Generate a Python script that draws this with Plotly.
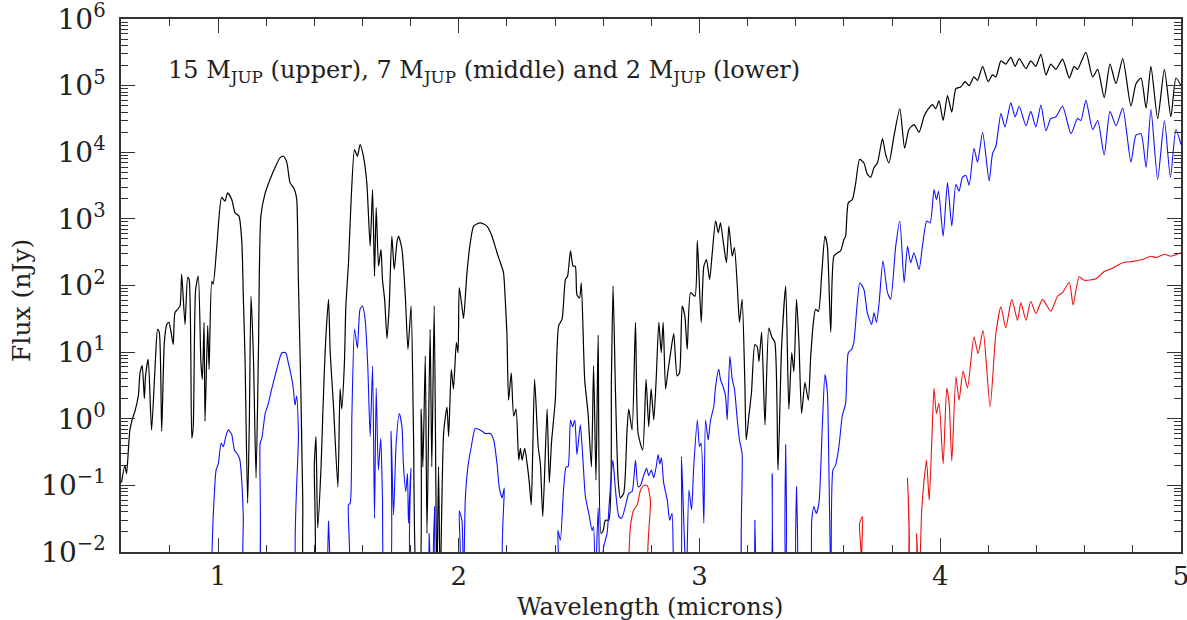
import plotly.graph_objects as go

# ---- data (wavelength in microns, flux in nJy); 0.003 marks points that drop below the plot floor ----
black_wl = [0.599, 0.613, 0.620, 0.634, 0.648, 0.655, 0.669, 0.676, 0.685, 0.694, 0.699, 0.710, 0.724, 0.738,
            0.749, 0.756, 0.766, 0.777, 0.787, 0.796, 0.805, 0.814, 0.821, 0.832, 0.842, 0.849, 0.863, 0.874,
            0.880, 0.891, 0.897, 0.907, 0.918, 0.929, 0.935, 0.942, 0.946, 0.957, 0.963, 0.974, 0.980, 0.995,
            1.015, 1.029, 1.040, 1.057, 1.071, 1.087, 1.099, 1.105, 1.112, 1.123, 1.130, 1.137, 1.147, 1.158,
            1.168, 1.178, 1.196, 1.216, 1.237, 1.258, 1.272, 1.286, 1.299, 1.313, 1.320, 1.327, 1.334, 1.344,
            1.352, 1.362, 1.395, 1.400, 1.407, 1.414, 1.428, 1.435, 1.442, 1.448, 1.459, 1.466, 1.479, 1.498,
            1.507, 1.514, 1.525, 1.531, 1.542, 1.553, 1.567, 1.579, 1.590, 1.604, 1.618, 1.632, 1.642, 1.650,
            1.657, 1.667, 1.677, 1.683, 1.692, 1.702, 1.711, 1.722, 1.732, 1.743, 1.750, 1.764, 1.778, 1.789,
            1.802, 1.812, 1.827, 1.836, 1.844, 1.851, 1.861, 1.868, 1.881, 1.888, 1.898, 1.909, 1.916, 1.923,
            1.937, 1.951, 1.958, 1.969, 1.978, 1.990, 1.997, 2.002, 2.013, 2.020, 2.034, 2.048, 2.062, 2.089,
            2.117, 2.138, 2.159, 2.173, 2.186, 2.193, 2.200, 2.207, 2.218, 2.228, 2.238, 2.249, 2.256, 2.263,
            2.274, 2.284, 2.293, 2.301, 2.307, 2.315, 2.330, 2.339, 2.349, 2.367, 2.376, 2.385, 2.401, 2.415,
            2.429, 2.443, 2.452, 2.464, 2.475, 2.484, 2.491, 2.502, 2.509, 2.523, 2.537, 2.551, 2.560, 2.570,
            2.579, 2.591, 2.600, 2.609, 2.623, 2.634, 2.641, 2.651, 2.662, 2.671, 2.685, 2.699, 2.706, 2.720,
            2.734, 2.745, 2.764, 2.778, 2.789, 2.799, 2.810, 2.820, 2.831, 2.841, 2.849, 2.859, 2.868, 2.880,
            2.893, 2.907, 2.917, 2.928, 2.939, 2.949, 2.963, 2.981, 2.991, 3.007, 3.018, 3.029, 3.042, 3.053,
            3.067, 3.078, 3.087, 3.101, 3.112, 3.122, 3.136, 3.145, 3.157, 3.166, 3.177, 3.188, 3.194, 3.205,
            3.216, 3.230, 3.240, 3.247, 3.258, 3.272, 3.288, 3.300, 3.313, 3.326, 3.341, 3.358, 3.371, 3.383,
            3.392, 3.403, 3.413, 3.424, 3.438, 3.452, 3.462, 3.473, 3.482, 3.494, 3.507, 3.521, 3.531, 3.545,
            3.558, 3.573, 3.586, 3.600, 3.607, 3.618, 3.635, 3.649, 3.665, 3.683, 3.697, 3.711, 3.725, 3.739,
            3.760, 3.773, 3.787, 3.808, 3.832, 3.852, 3.870, 3.891, 3.912, 3.933, 3.951, 3.968, 3.981, 3.995,
            4.012, 4.030, 4.048, 4.065, 4.085, 4.103, 4.120, 4.140, 4.155, 4.176, 4.199, 4.217, 4.231, 4.252,
            4.272, 4.293, 4.311, 4.328, 4.356, 4.376, 4.397, 4.418, 4.439, 4.459, 4.480, 4.508, 4.536, 4.556,
            4.570, 4.605, 4.633, 4.654, 4.681, 4.705, 4.730, 4.758, 4.792, 4.813, 4.834, 4.855, 4.875, 4.903,
            4.931, 4.958, 4.979, 5.000]
black_flux = [0.11, 0.20, 0.15, 0.68, 1.1, 1.3, 2.2, 4.9, 6.3, 2.0, 4.4, 7.8, 0.68, 5.5,
              22, 20, 0.65, 14, 26, 28, 20, 13, 39, 44, 49, 148, 26, 132,
              123, 0.51, 0.76, 87, 138, 6.9, 3.9, 28, 0.91, 25, 5.5, 115, 105, 390,
              2100, 1850, 2450, 1950, 1230, 1100, 440, 69, 8.7, 0.054, 0.85, 69, 8.7, 0.13,
              11, 1100, 2450, 3900, 5900, 8300, 8700, 7000, 3500, 2950, 2600, 1950, 110, 2.8,
              0.06, 0.003, 0.003, 0.20, 0.54, 0.023, 0.19, 1.1, 5.5, 17, 62, 9.8, 1.7, 0.095,
              2.8, 1.4, 6.9, 49, 220, 1950, 11000, 8700, 13000, 8700, 3500, 390, 2750, 138,
              1480, 195, 350, 123, 62, 16, 49, 550, 174, 440, 550, 350, 69, 11,
              49, 0.6, 0.003, 0.003, 1.4, 0.19, 8.7, 0.019, 22, 0.19, 49, 0.003, 0.19, 0.003,
              0.6, 1.5, 0.54, 5.5, 2.8, 14, 9.8, 93, 49, 32, 155, 440, 780, 870,
              780, 550, 310, 220, 155, 62, 19, 1.9, 4.9, 1.1, 1.4, 0.24, 0.36, 0.24,
              0.36, 0.21, 0.11, 0.051, 0.30, 3.9, 0.38, 0.21, 0.034, 1.4, 0.11, 0.43, 1.9, 25,
              31, 123, 138, 330, 195, 195, 72, 65, 110, 3.9, 1.2, 0.19, 6.2, 0.12,
              18, 0.019, 0.021, 0.030, 0.030, 3.9, 98, 2.5, 0.12, 0.065, 0.076, 0.68, 1.4, 0.68,
              28, 0.6, 0.34, 3.9, 0.76, 2.8, 0.96, 3.9, 28, 9.8, 28, 2.8, 4.9, 9.8,
              19, 4.4, 4.9, 49, 35, 11, 78, 69, 470, 28, 195, 245, 123, 310,
              930, 620, 870, 390, 220, 780, 275, 370, 98, 28, 62, 3.9, 0.48, 1.1,
              2.5, 13, 12, 7.2, 20, 0.81, 23, 17, 14, 0.17, 12, 98, 1.4, 9.8,
              5.1, 62, 14, 1.2, 3.5, 1.9, 8.7, 28, 44, 41, 138, 550, 390, 20,
              275, 310, 330, 490, 550, 1740, 1950, 3500, 7800, 6900, 4700, 4200, 5900, 6900,
              16000, 9300, 6900, 17800, 45000, 11500, 22000, 26000, 20000, 35000, 45000, 52000, 45000, 59000,
              30000, 71000, 40000, 90000, 95000, 115000, 100000, 135000, 120000, 195000, 115000, 145000, 135000, 235000,
              210000, 265000, 195000, 255000, 180000, 235000, 195000, 295000, 145000, 210000, 175000, 250000, 130000, 195000,
              175000, 315000, 135000, 175000, 66000, 210000, 107000, 255000, 49000, 107000, 130000, 46000, 195000, 32000,
              175000, 34000, 130000, 100000]

blue_wl = [0.971, 0.980, 0.992, 1.001, 1.013, 1.022, 1.032, 1.043, 1.057, 1.068, 1.082, 1.091, 1.099, 1.105,
           1.112, 1.162, 1.175, 1.182, 1.196, 1.209, 1.223, 1.237, 1.251, 1.265, 1.281, 1.292, 1.304, 1.313,
           1.320, 1.327, 1.334, 1.338, 1.453, 1.459, 1.466, 1.539, 1.542, 1.549, 1.556, 1.567, 1.579, 1.590,
           1.600, 1.611, 1.622, 1.632, 1.642, 1.650, 1.657, 1.666, 1.676, 1.683, 1.694, 1.712, 1.719, 1.729,
           1.740, 1.753, 1.764, 1.770, 1.780, 1.787, 1.791, 1.801, 1.808, 1.873, 1.877, 1.881, 1.894, 1.900,
           1.906, 1.997, 2.002, 2.013, 2.020, 2.027, 2.038, 2.052, 2.069, 2.097, 2.110, 2.131, 2.145, 2.159,
           2.168, 2.180, 2.189, 2.196, 2.401, 2.412, 2.422, 2.436, 2.446, 2.454, 2.464, 2.473, 2.482, 2.491,
           2.505, 2.515, 2.526, 2.540, 2.554, 2.560, 2.567, 2.579, 2.588, 2.602, 2.616, 2.626, 2.640, 2.651,
           2.665, 2.676, 2.692, 2.706, 2.720, 2.734, 2.745, 2.755, 2.768, 2.780, 2.789, 2.800, 2.810, 2.820,
           2.828, 2.835, 2.842, 2.851, 2.866, 2.876, 2.886, 2.900, 2.917, 2.925, 2.935, 2.945, 2.956, 2.967,
           2.976, 2.991, 3.000, 3.007, 3.018, 3.025, 3.036, 3.046, 3.059, 3.067, 3.080, 3.087, 3.097, 3.108,
           3.115, 3.126, 3.136, 3.145, 3.157, 3.166, 3.177, 3.184, 3.225, 3.230, 3.240, 3.288, 3.302, 3.316,
           3.349, 3.358, 3.367, 3.399, 3.403, 3.410, 3.454, 3.466, 3.475, 3.485, 3.496, 3.510, 3.521, 3.531,
           3.538, 3.546, 3.554, 3.565, 3.579, 3.593, 3.607, 3.618, 3.632, 3.641, 3.653, 3.666, 3.683, 3.697,
           3.715, 3.725, 3.735, 3.746, 3.762, 3.781, 3.794, 3.815, 3.832, 3.850, 3.864, 3.877, 3.891, 3.912,
           3.926, 3.944, 3.958, 3.974, 3.984, 3.993, 4.012, 4.030, 4.048, 4.065, 4.078, 4.092, 4.106, 4.120,
           4.140, 4.155, 4.176, 4.203, 4.217, 4.231, 4.252, 4.269, 4.293, 4.311, 4.328, 4.356, 4.376, 4.397,
           4.418, 4.439, 4.459, 4.480, 4.508, 4.543, 4.570, 4.584, 4.605, 4.633, 4.654, 4.681, 4.705, 4.730,
           4.758, 4.792, 4.813, 4.834, 4.855, 4.875, 4.903, 4.931, 4.956, 4.979, 5.000]
blue_flux = [0.003, 0.034, 0.17, 0.21, 0.43, 0.38, 0.54, 0.68, 0.58, 0.34, 0.29, 0.24, 0.11, 0.034,
             0.003, 0.003, 0.43, 0.51, 1.2, 1.7, 2.8, 4.4, 6.9, 9.8, 9.8, 6.9, 4.4, 2.8,
             1.6, 2.2, 0.6, 0.003, 0.003, 0.029, 0.003, 0.003, 0.051, 0.054, 1.1, 22, 11.5, 44,
             49, 31, 6.2, 0.54, 6.2, 0.032, 2.9, 0.17, 0.51, 0.068, 0.003, 0.003, 0.65, 0.036,
             0.43, 1.2, 0.76, 0.21, 0.081, 0.15, 0.027, 0.18, 0.003, 0.003, 0.019, 0.003, 0.003, 0.048,
             0.003, 0.003, 0.041, 0.030, 0.003, 0.06, 0.19, 0.38, 0.72, 0.65, 0.6, 0.6, 0.48, 0.21,
             0.095, 0.065, 0.091, 0.003, 0.003, 0.021, 0.015, 0.095, 0.19, 0.19, 0.96, 0.76, 0.96, 0.29,
             0.81, 0.27, 0.068, 0.038, 0.021, 0.024, 0.003, 0.046, 0.003, 0.012, 0.019, 0.06, 0.24, 0.085,
             0.034, 0.032, 0.048, 0.076, 0.081, 0.24, 0.095, 0.10, 0.14, 0.18, 0.14, 0.17, 0.13, 0.19,
             0.29, 0.21, 0.26, 0.11, 0.06, 0.030, 0.038, 0.003, 0.003, 0.27, 0.027, 0.003, 0.085, 0.043,
             0.19, 0.96, 0.38, 0.43, 0.027, 0.96, 0.48, 0.96, 1.5, 3.1, 5.5, 3.9, 3.1, 2.2,
             0.96, 8.7, 3.9, 2.8, 0.96, 0.48, 0.30, 0.003, 0.003, 0.030, 0.003, 0.003, 0.15, 0.003,
             0.003, 0.41, 0.003, 0.003, 0.095, 0.003, 0.003, 0.030, 0.048, 0.038, 0.054, 0.76, 4.6, 2.5,
             0.13, 0.003, 0.17, 0.20, 0.38, 1.1, 1.7, 9.8, 11, 14, 44, 110, 87, 39,
             26, 39, 28, 55, 235, 78, 62, 390, 930, 110, 390, 220, 310, 174,
             390, 930, 870, 2750, 1950, 2600, 550, 3500, 780, 3300, 2600, 4200, 4500, 3200,
             11500, 7100, 20000, 3700, 9500, 12300, 38000, 24000, 55000, 34000, 49000, 25000, 41000, 24000,
             51000, 21000, 32000, 34000, 49000, 19000, 32000, 30000, 60000, 22000, 30000, 9100, 41000, 25000,
             46000, 7100, 18000, 19000, 5900, 44000, 3900, 30000, 4200, 22000, 13000]

red_wl = [2.703, 2.713, 2.727, 2.741, 2.755, 2.768, 2.782, 2.796, 2.806, 3.656, 3.665, 3.677, 3.686, 3.854,
          3.864, 3.870, 3.877, 3.898, 3.902, 3.912, 3.923, 3.933, 3.943, 3.954, 3.965, 3.974, 3.984, 3.995,
          4.012, 4.027, 4.037, 4.048, 4.065, 4.078, 4.095, 4.113, 4.140, 4.157, 4.178, 4.207, 4.231, 4.252,
          4.272, 4.297, 4.321, 4.335, 4.356, 4.376, 4.397, 4.425, 4.459, 4.487, 4.508, 4.536, 4.552, 4.577,
          4.598, 4.647, 4.681, 4.716, 4.758, 4.799, 4.841, 4.875, 4.896, 4.931, 4.958, 5.000]
red_flux = [0.003, 0.024, 0.043, 0.051, 0.085, 0.10, 0.10, 0.06, 0.003, 0.003, 0.027, 0.034, 0.003, 0.003,
            0.13, 0.024, 0.003, 0.003, 0.019, 0.003, 0.043, 0.12, 0.24, 0.06, 0.48, 2.9, 1.2, 1.7,
            0.21, 2.9, 1.7, 0.23, 4.3, 1.9, 5.2, 2.9, 17, 9.5, 21, 1.5, 19, 48,
            23, 62, 30, 55, 30, 58, 38, 62, 41, 69, 78, 112, 51, 135,
            120, 126, 162, 182, 220, 230, 245, 275, 263, 295, 275, 310]

x_major = [1, 2, 3, 4, 5]
y_major = [1e-2, 1e-1, 1e0, 1e1, 1e2, 1e3, 1e4, 1e5, 1e6]
y_labels = ["10<sup>−2</sup>", "10<sup>−1</sup>", "10<sup>0</sup>", "10<sup>1</sup>", "10<sup>2</sup>",
            "10<sup>3</sup>", "10<sup>4</sup>", "10<sup>5</sup>", "10<sup>6</sup>"]
y_minor = [m * 10 ** e for e in range(-2, 6) for m in range(2, 10)]

FONT = "DejaVu Serif"
AXIS_COL = "#333333"
TXT_COL = "#222222"

fig = go.Figure()
fig.add_trace(go.Scatter(x=black_wl, y=black_flux, mode="lines",
                         line=dict(color="black", width=1.2, shape="spline", smoothing=0.6)))
fig.add_trace(go.Scatter(x=blue_wl, y=blue_flux, mode="lines",
                         line=dict(color="#1010ff", width=1.1, shape="spline", smoothing=0.6)))
fig.add_trace(go.Scatter(x=red_wl, y=red_flux, mode="lines",
                         line=dict(color="#ee1111", width=1.1, shape="spline", smoothing=0.6)))

fig.update_layout(
    width=1187, height=620,
    margin=dict(l=121, r=6, t=19, b=68),
    paper_bgcolor="white", plot_bgcolor="white",
    showlegend=False,
    font=dict(family=FONT, color=TXT_COL),
)
fig.update_xaxes(
    range=[0.597, 5.0], tickmode="array", tickvals=x_major, ticktext=[str(v) for v in x_major],
    ticks="inside", ticklen=14, tickwidth=1.2, tickcolor=AXIS_COL,
    showline=True, linecolor=AXIS_COL, linewidth=1.5, mirror="allticks",
    showgrid=False, zeroline=False, automargin=False, ticklabeloverflow="allow",
    tickfont=dict(size=26, family=FONT, color=TXT_COL),
    minor=dict(ticks="inside", ticklen=7, tickwidth=1, tickcolor=AXIS_COL, dtick=0.2, tick0=0, showgrid=False),
)
fig.update_yaxes(
    type="log", range=[-2, 6], tickmode="array", tickvals=y_major, ticktext=y_labels,
    ticks="inside", ticklen=14, tickwidth=1.2, tickcolor=AXIS_COL,
    showline=True, linecolor=AXIS_COL, linewidth=1.5, mirror="allticks",
    showgrid=False, zeroline=False, automargin=False, ticklabeloverflow="allow",
    ticklabelstandoff=8,
    tickfont=dict(size=28, family=FONT, color=TXT_COL),
    minor=dict(ticks="inside", ticklen=7, tickwidth=1, tickcolor=AXIS_COL,
               tickmode="array", tickvals=y_minor, showgrid=False),
)

fig.add_annotation(
    xref="paper", yref="paper", x=0.0425, y=0.9006, xanchor="left", yanchor="middle",
    text="15 M<sub>JUP</sub> (upper), 7 M<sub>JUP</sub> (middle) and 2 M<sub>JUP</sub> (lower)",
    showarrow=False, font=dict(size=24, family=FONT, color=TXT_COL),
)
fig.add_annotation(
    xref="paper", yref="paper", x=-0.0934, y=0.473, xanchor="center", yanchor="middle",
    text="Flux (nJy)", textangle=-90, showarrow=False, font=dict(size=25, family=FONT, color=TXT_COL),
)
fig.add_annotation(
    xref="paper", yref="paper", x=0.499, y=-0.103, xanchor="center", yanchor="middle",
    text="Wavelength (microns)", showarrow=False, font=dict(size=24, family=FONT, color=TXT_COL),
)

fig.write_html(
    "out.html",
    config={"displayModeBar": False},
    post_script="document.body.style.margin='0';document.body.style.overflow='hidden';",
)
